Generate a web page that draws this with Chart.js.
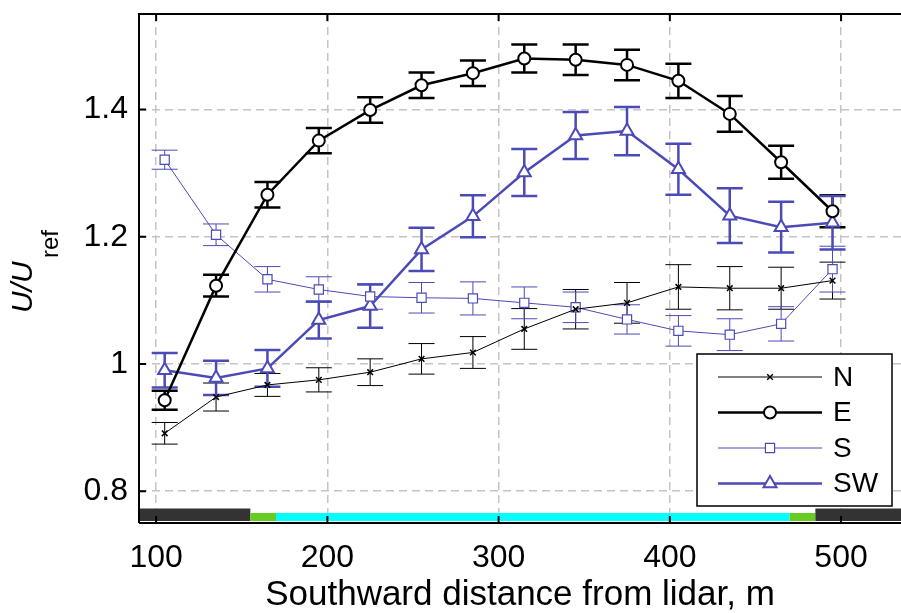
<!DOCTYPE html>
<html>
<head>
<meta charset="utf-8">
<script src="https://cdn.jsdelivr.net/npm/chart.js@4.4.0/dist/chart.umd.min.js"></script>
<style>
html, body { margin: 0; padding: 0; background: #fff; overflow: hidden; }
</style>
</head>
<body>
<canvas id="chart" width="901" height="613"></canvas>
<script>
// distance from lidar (m)
var distances = [105, 135, 165, 195, 225, 255, 285, 315, 345, 375, 405, 435, 465, 495];

var nValues  = [0.891, 0.948, 0.967, 0.975, 0.987, 1.008, 1.018, 1.055, 1.086, 1.096, 1.121, 1.119, 1.119, 1.131];
var nErr     = [0.017, 0.022, 0.018, 0.019, 0.021, 0.024, 0.025, 0.032, 0.031, 0.032, 0.035, 0.034, 0.033, 0.029];
var eValues  = [0.943, 1.123, 1.266, 1.351, 1.399, 1.438, 1.457, 1.480, 1.478, 1.470, 1.445, 1.393, 1.317, 1.240];
var eErr     = [0.015, 0.017, 0.020, 0.020, 0.020, 0.020, 0.020, 0.022, 0.024, 0.024, 0.027, 0.028, 0.026, 0.025];
var sValues  = [1.321, 1.203, 1.133, 1.117, 1.106, 1.104, 1.103, 1.096, 1.089, 1.070, 1.052, 1.046, 1.063, 1.149];
var sErr     = [0.015, 0.017, 0.020, 0.020, 0.020, 0.024, 0.026, 0.025, 0.024, 0.023, 0.024, 0.025, 0.027, 0.036];
var swValues = [0.990, 0.978, 0.993, 1.069, 1.091, 1.180, 1.232, 1.301, 1.359, 1.366, 1.306, 1.233, 1.215, 1.222];
var swErr    = [0.027, 0.027, 0.029, 0.029, 0.034, 0.034, 0.033, 0.037, 0.037, 0.038, 0.040, 0.043, 0.040, 0.042];

var xTicks = [100, 200, 300, 400, 500];
var yTicks = [0.8, 1, 1.2, 1.4];

// coloured strip under the plot
var zoneEdges  = [90, 155, 170, 470, 485, 535];
var zoneColors = ["#333333", "#66cc22", "#00ffff", "#66cc22", "#333333"];

var BLUE = "#4b4bb7";
var FONT = "'Liberation Sans', Arial, sans-serif";

function points(vals) {
  return distances.map(function(d, i) { return { x: d, y: vals[i] }; });
}

// error bars, drawn before the lines so markers sit on top
var errorBars = {
  id: "errorBars",
  beforeDatasetsDraw: function(chart) {
    var ctx = chart.ctx, xs = chart.scales.x, ys = chart.scales.y;
    ctx.save();
    chart.data.datasets.forEach(function(ds) {
      ctx.strokeStyle = ds.borderColor;
      ctx.lineWidth = ds.borderWidth;
      ds.data.forEach(function(p, i) {
        var px = xs.getPixelForValue(p.x);
        var top = ys.getPixelForValue(p.y + ds.err[i]);
        var bot = ys.getPixelForValue(p.y - ds.err[i]);
        ctx.beginPath();
        ctx.moveTo(px, top); ctx.lineTo(px, bot);
        ctx.moveTo(px - 13, top); ctx.lineTo(px + 13, top);
        ctx.moveTo(px - 13, bot); ctx.lineTo(px + 13, bot);
        ctx.stroke();
      });
    });
    ctx.restore();
  }
};

// strip, frame, inward ticks, y title, legend
var decorations = {
  id: "decorations",
  beforeDatasetsDraw: function(chart) {
    var ctx = chart.ctx, xs = chart.scales.x, a = chart.chartArea;
    ctx.save();
    for (var i = 0; i < zoneColors.length; i++) {
      var x0 = xs.getPixelForValue(zoneEdges[i]);
      var x1 = xs.getPixelForValue(zoneEdges[i + 1]);
      ctx.fillStyle = zoneColors[i];
      if (zoneColors[i] === "#333333") ctx.fillRect(x0, a.bottom - 14.5, x1 - x0, 12.5);
      else ctx.fillRect(x0, a.bottom - 10, x1 - x0, 8);
    }
    ctx.restore();
  },
  afterDraw: function(chart) {
    var ctx = chart.ctx, xs = chart.scales.x, ys = chart.scales.y, a = chart.chartArea;
    ctx.save();
    ctx.strokeStyle = "#000";
    ctx.lineWidth = 2;
    ctx.beginPath();
    ctx.moveTo(a.left, a.bottom); ctx.lineTo(a.left, a.top); ctx.lineTo(a.right, a.top);
    ctx.moveTo(a.left, a.bottom); ctx.lineTo(a.right, a.bottom);
    xTicks.forEach(function(v) {
      var px = xs.getPixelForValue(v);
      ctx.moveTo(px, a.top); ctx.lineTo(px, a.top + 7);
      ctx.moveTo(px, a.bottom); ctx.lineTo(px, a.bottom - 7);
    });
    yTicks.forEach(function(v) {
      var py = ys.getPixelForValue(v);
      ctx.moveTo(a.left, py); ctx.lineTo(a.left + 7, py);
    });
    ctx.stroke();

    // y axis title U/U_ref
    ctx.fillStyle = "#000";
    ctx.translate(32, 313);
    ctx.rotate(-Math.PI / 2);
    ctx.textBaseline = "alphabetic";
    ctx.textAlign = "left";
    ctx.font = "italic 30px " + FONT;
    ctx.fillText("U/U", 0, 0);
    ctx.font = "24px " + FONT;
    ctx.fillText("ref", 55, 26);
    ctx.setTransform(1, 0, 0, 1, 0, 0);

    // legend
    var lx = 697, ly = 354, lw = 195, lh = 152;
    ctx.fillStyle = "#fff";
    ctx.fillRect(lx, ly, lw, lh);
    ctx.strokeStyle = "#000";
    ctx.lineWidth = 1.5;
    ctx.strokeRect(lx, ly, lw, lh);
    chart.data.datasets.forEach(function(ds, i) {
      var y = ly + 23 + i * 35.5;
      ctx.strokeStyle = ds.borderColor;
      ctx.lineWidth = ds.borderWidth;
      ctx.beginPath();
      ctx.moveTo(lx + 21, y); ctx.lineTo(lx + 125, y);
      ctx.stroke();
      ctx.fillStyle = ds.pointBackgroundColor;
      ctx.lineWidth = ds.pointBorderWidth;
      Chart.helpers.drawPoint(ctx, {
        pointStyle: ds.pointStyle, radius: ds.pointRadius, borderWidth: ds.pointBorderWidth, rotation: 0
      }, lx + 73, y);
      ctx.fillStyle = "#000";
      ctx.font = "28px " + FONT;
      ctx.textBaseline = "middle";
      ctx.fillText(ds.label, lx + 136, y + 1);
    });
    ctx.restore();
  }
};

new Chart("chart", {
  type: "line",
  data: {
    datasets: [{
      label: "N",
      data: points(nValues),
      err: nErr,
      borderColor: "#000",
      borderWidth: 1,
      pointStyle: "crossRot",
      pointRadius: 4,
      pointBorderWidth: 1.5,
      pointBackgroundColor: "#000"
    }, {
      label: "E",
      data: points(eValues),
      err: eErr,
      borderColor: "#000",
      borderWidth: 2.5,
      pointStyle: "circle",
      pointRadius: 6,
      pointBorderWidth: 2,
      pointBackgroundColor: "#fff"
    }, {
      label: "S",
      data: points(sValues),
      err: sErr,
      borderColor: BLUE,
      borderWidth: 1,
      pointStyle: "rect",
      pointRadius: 6.5,
      pointBorderWidth: 1.2,
      pointBackgroundColor: "#fff"
    }, {
      label: "SW",
      data: points(swValues),
      err: swErr,
      borderColor: BLUE,
      borderWidth: 2.5,
      pointStyle: "triangle",
      pointRadius: 7.5,
      pointBorderWidth: 2,
      pointBackgroundColor: "#fff"
    }]
  },
  options: {
    responsive: false,
    animation: false,
    layout: { padding: { top: 14, right: 0, bottom: 0, left: 0 }, autoPadding: false },
    plugins: { legend: { display: false }, tooltip: { enabled: false } },
    scales: {
      x: {
        type: "linear",
        min: 90,
        max: 535,
        afterBuildTicks: function(s) { s.ticks = xTicks.map(function(v) { return { value: v }; }); },
        afterFit: function(s) { s.height = 90; s.paddingLeft = 0; s.paddingRight = 0; },
        grid: { color: "#c4c4c4", lineWidth: 1.5, drawTicks: false },
        border: { display: false, dash: [8, 5] },
        ticks: { color: "#000", font: { family: FONT, size: 32 }, padding: 16 },
        title: {
          display: true,
          text: "Southward distance from lidar, m",
          color: "#000",
          font: { family: FONT, size: 35, lineHeight: 1 },
          padding: { top: 0, bottom: 0 }
        }
      },
      y: {
        min: 0.75,
        max: 1.55,
        afterBuildTicks: function(s) { s.ticks = yTicks.map(function(v) { return { value: v }; }); },
        afterFit: function(s) { s.width = 139; s.paddingTop = 0; s.paddingBottom = 0; },
        grid: { color: "#c4c4c4", lineWidth: 1.5, drawTicks: false },
        border: { display: false, dash: [8, 5] },
        ticks: {
          color: "#000",
          font: { family: FONT, size: 32 },
          padding: 11,
          callback: function(v) { return String(v); }
        }
      }
    }
  },
  plugins: [decorations, errorBars]
});
</script>
</body>
</html>
